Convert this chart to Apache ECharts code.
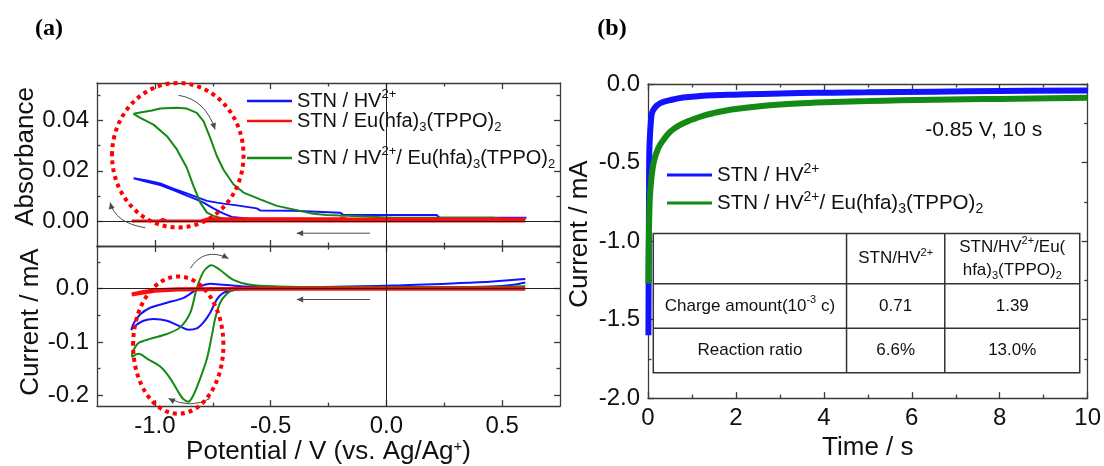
<!DOCTYPE html>
<html>
<head>
<meta charset="utf-8">
<script src="https://cdn.jsdelivr.net/npm/echarts@6/dist/echarts.min.js"></script>
<style>
  html, body { margin: 0; padding: 0; background: #ffffff; }
  #chart { width: 1104px; height: 466px; }
</style>
</head>
<body>
<div id="chart"></div>
<script>
// ---------------- data ----------------
// tick values
const potentialTicks = [-1.0, -0.5, 0.0, 0.5];
const potentialMinor = [-0.75, -0.25, 0.25];
const absorbanceTicks = [0.00, 0.02, 0.04];
const absorbanceMinor = [-0.01, 0.01, 0.03, 0.05];
const cvCurrentTicks = [0.0, -0.1, -0.2];
const cvCurrentMinor = [0.05, -0.05, -0.15];
const timeTicks = [0, 2, 4, 6, 8, 10];
const timeMinor = [1, 3, 5, 7, 9];
const caCurrentTicks = [0.0, -0.5, -1.0, -1.5, -2.0];
const caCurrentMinor = [-0.25, -0.75, -1.25, -1.75];

// series names
const NAME_HV = 'STN / HV2+';
const NAME_EU = 'STN / Eu(hfa)3(TPPO)2';
const NAME_HVEU = 'STN / HV2+/ Eu(hfa)3(TPPO)2';

// (a) absorbance vs potential, scan order [V, Abs]
const absHV = [
  [0.60, 0.0010], [0.30, 0.0008], [0.00, 0.0008], [-0.30, 0.0008], [-0.60, 0.0010],
  [-0.668, 0.0016], [-0.705, 0.0030], [-0.747, 0.0050], [-0.790, 0.0073], [-0.819, 0.0085],
  [-0.862, 0.0101], [-0.920, 0.0123], [-0.977, 0.0143], [-1.035, 0.0156], [-1.092, 0.0170],
  [-1.035, 0.0161], [-0.977, 0.0149], [-0.920, 0.0129], [-0.862, 0.0110], [-0.819, 0.0095],
  [-0.775, 0.0080], [-0.732, 0.0073], [-0.704, 0.0069], [-0.646, 0.0062], [-0.603, 0.0056],
  [-0.560, 0.0050], [-0.545, 0.0042], [-0.402, 0.0041], [-0.200, 0.0033], [-0.186, 0.0024],
  [0.217, 0.0024], [0.230, 0.0013], [0.605, 0.0013]
];
const absEu = [
  [0.60, 0.0000], [-1.10, 0.0000],
  [-0.98, 0.0000], [-0.965, 0.0006], [-0.95, 0.0000], [-0.80, 0.0000], [-0.77, 0.0009],
  [-0.20, 0.0009], [-0.19, 0.0012], [-0.17, 0.0008], [0.60, 0.0008]
];
const absHVEu = [
  [0.60, 0.0008], [0.40, 0.0006], [0.20, 0.0005], [0.00, 0.0005], [-0.20, 0.0005],
  [-0.40, 0.0005], [-0.60, 0.0006], [-0.70, 0.0008], [-0.747, 0.0020], [-0.775, 0.0033],
  [-0.804, 0.0073], [-0.833, 0.0139], [-0.862, 0.0212], [-0.905, 0.0285], [-0.948, 0.0338],
  [-1.006, 0.0384], [-1.063, 0.0411], [-1.092, 0.0427],
  [-1.063, 0.0432], [-1.013, 0.0440], [-0.977, 0.0448], [-0.905, 0.0451], [-0.862, 0.0448],
  [-0.819, 0.0431], [-0.790, 0.0398], [-0.761, 0.0331], [-0.732, 0.0258], [-0.704, 0.0205],
  [-0.661, 0.0146], [-0.617, 0.0113], [-0.545, 0.0086], [-0.473, 0.0060], [-0.402, 0.0046],
  [-0.316, 0.0029], [-0.258, 0.0024], [-0.114, 0.0019], [0.030, 0.0013], [0.460, 0.0013],
  [0.500, 0.0009], [0.600, 0.0007]
];

// (a) cyclic voltammograms, scan order [V, mA]
const cvHV = [
  [0.60, 0.0116], [0.55, 0.0074], [0.45, 0.0040], [0.20, 0.0025], [0.00, 0.0020],
  [-0.30, 0.0015], [-0.60, 0.0010], [-0.661, -0.0030], [-0.704, -0.0080], [-0.732, -0.0200],
  [-0.761, -0.0450], [-0.790, -0.0630], [-0.819, -0.0744], [-0.855, -0.0770], [-0.891, -0.0707],
  [-0.948, -0.0600], [-1.006, -0.0570], [-1.049, -0.0600], [-1.085, -0.0695], [-1.102, -0.0770],
  [-1.089, -0.0630], [-1.063, -0.0480], [-1.020, -0.0357], [-0.948, -0.0264], [-0.876, -0.0172],
  [-0.833, -0.0050], [-0.804, 0.0043], [-0.761, 0.0092], [-0.704, 0.0074], [-0.617, 0.0043],
  [-0.402, 0.0030], [0.030, 0.0060], [0.317, 0.0105], [0.461, 0.0135], [0.600, 0.0180]
];
const cvEu = [
  [0.60, 0.0000], [0.00, 0.0000], [-0.60, 0.0000], [-0.90, -0.0015], [-1.00, -0.0040],
  [-1.05, -0.0070], [-1.10, -0.0110], [-1.05, -0.0060], [-1.00, -0.0030], [-0.90, -0.0010],
  [-0.60, 0.0000], [0.60, 0.0000]
];
const cvHVEu = [
  [0.60, 0.0040], [0.40, 0.0030], [0.20, 0.0030], [0.00, 0.0030], [-0.20, 0.0030],
  [-0.40, 0.0020], [-0.60, 0.0010], [-0.66, -0.0020], [-0.69, -0.0100], [-0.718, -0.0264],
  [-0.740, -0.0570], [-0.754, -0.0880], [-0.775, -0.1310], [-0.804, -0.1680], [-0.833, -0.1990],
  [-0.855, -0.2120], [-0.876, -0.2070], [-0.891, -0.1990], [-0.934, -0.1680], [-0.977, -0.1460],
  [-1.034, -0.1310], [-1.070, -0.1220], [-1.099, -0.1280],
  [-1.096, -0.1180], [-1.089, -0.1125], [-1.070, -0.1015], [-1.020, -0.0940], [-0.948, -0.0850],
  [-0.891, -0.0725], [-0.847, -0.0450], [-0.819, 0.0010], [-0.790, 0.0320], [-0.765, 0.0430],
  [-0.754, 0.0440], [-0.735, 0.0400], [-0.718, 0.0350], [-0.661, 0.0166], [-0.589, 0.0074],
  [-0.473, 0.0043], [-0.258, 0.0030], [0.000, 0.0030], [0.300, 0.0030], [0.600, 0.0040]
];

// (b) chronoamperometry at -0.85 V [s, mA]
const caHV = [
  [0.01, -1.60], [0.015, -1.20], [0.02, -0.90], [0.025, -0.62], [0.03, -0.43],
  [0.045, -0.325], [0.06, -0.263], [0.08, -0.200], [0.11, -0.171], [0.19, -0.140],
  [0.30, -0.119], [0.50, -0.103], [0.80, -0.086], [1.18, -0.077], [1.50, -0.072],
  [1.94, -0.068], [2.60, -0.063], [3.45, -0.058], [4.20, -0.055], [4.97, -0.053],
  [6.48, -0.049], [8.00, -0.045], [10.00, -0.041]
];
const caHVEu = [
  [0.01, -1.27], [0.02, -1.00], [0.04, -0.737], [0.08, -0.593], [0.136, -0.490],
  [0.235, -0.407], [0.35, -0.356], [0.50, -0.305], [0.60, -0.283], [0.73, -0.260],
  [0.90, -0.238], [1.03, -0.224], [1.25, -0.203], [1.48, -0.186], [1.75, -0.170],
  [2.09, -0.156], [2.50, -0.143], [2.85, -0.134], [3.50, -0.123], [4.21, -0.115],
  [5.00, -0.109], [5.73, -0.104], [6.50, -0.100], [7.24, -0.097], [8.00, -0.095],
  [8.76, -0.092], [10.00, -0.088]
];

// (b) inset table
const tableHeader = ['', '{t|STN/HV}{s|2+}', '{t|STN/HV}{s|2+}{t|/Eu(}\n{t|hfa)}{b|3}{t|(TPPO)}{b|2}'];
const tableRows = [
  ['{t|Charge amount(10}{s|-3}{t| c)}', '0.71', '1.39'],
  ['Reaction ratio', '6.6%', '13.0%']
];

// ---------------- styles ----------------
const FONT = '"Liberation Sans", Arial, sans-serif';
const AXIS = '#3a3a3a';
const TEXT = '#111111';
const C_HV = '#1212ff';
const C_EU = '#ff0d0d';
const C_HVEU = '#138a13';

const richName = {};
richName[NAME_HV] = '{n|STN / HV}{sup|2+}';
richName[NAME_EU] = '{n|STN / Eu(hfa)}{sub|3}{n|(TPPO)}{sub|2}';
richName[NAME_HVEU] = '{n|STN / HV}{sup|2+}{n|/ Eu(hfa)}{sub|3}{n|(TPPO)}{sub|2}';

const LEGEND_LINE_H = 26;
function legendRich(size) {
  const small = Math.round(size * 0.66);
  return {
    n: { fontSize: size, fontFamily: FONT, color: TEXT, lineHeight: LEGEND_LINE_H },
    sup: { fontSize: small, fontFamily: FONT, color: TEXT, lineHeight: small, verticalAlign: 'top' },
    sub: { fontSize: small, fontFamily: FONT, color: TEXT, lineHeight: small, verticalAlign: 'bottom' }
  };
}

function nameStyle(shift) {
  return {
    fontSize: 26, fontFamily: FONT, color: TEXT, padding: [0, 0, 0, shift || 0],
    rich: { sup: { fontSize: 15, fontFamily: FONT, color: TEXT, lineHeight: 15, verticalAlign: 'top' } }
  };
}

// ---------------- axes ----------------
const xAxes = [];
const yAxes = [];
function addAxis(list, o) {
  const idx = list.length;
  const tickStyle = { color: AXIS, width: 1.3 };
  list.push({
    type: 'value', gridIndex: o.grid, position: o.pos, min: o.min, max: o.max,
    axisLine: { show: true, onZero: false, lineStyle: { color: AXIS, width: 1.3 } },
    axisTick: { show: true, inside: true, length: 6, customValues: o.major, lineStyle: tickStyle },
    axisLabel: o.labels ? {
      show: true, customValues: o.labels, formatter: o.fmt, margin: 8,
      fontSize: 24, fontFamily: FONT, color: TEXT
    } : { show: false },
    splitLine: { show: false },
    name: o.name || '', nameLocation: 'middle', nameGap: o.nameGap || 0, nameTextStyle: nameStyle(o.shift)
  });
  list.push({
    type: 'value', gridIndex: o.grid, position: o.pos, min: o.min, max: o.max,
    axisLine: { show: false, onZero: false },
    axisTick: { show: true, inside: true, length: 3.5, customValues: o.minor, lineStyle: tickStyle },
    axisLabel: { show: false }, splitLine: { show: false }
  });
  return idx;
}
const f1 = v => v.toFixed(1);
const f2 = v => v.toFixed(2);
const f0 = v => String(Math.round(v));

const potRange = { min: -1.25, max: 0.75, major: potentialTicks, minor: potentialMinor };
const xAbs = addAxis(xAxes, Object.assign({ grid: 0, pos: 'bottom' }, potRange));
addAxis(xAxes, Object.assign({ grid: 0, pos: 'top' }, potRange));
const xCv = addAxis(xAxes, Object.assign({
  grid: 1, pos: 'bottom', labels: potentialTicks, fmt: f1,
  name: 'Potential / V (vs. Ag/Ag{sup|+})', nameGap: 30
}, potRange));
addAxis(xAxes, Object.assign({ grid: 1, pos: 'top' }, potRange));
const timeRange = { min: 0, max: 10, major: timeTicks, minor: timeMinor };
const xCa = addAxis(xAxes, Object.assign({
  grid: 2, pos: 'bottom', labels: timeTicks, fmt: f0, name: 'Time / s', nameGap: 32
}, timeRange));
addAxis(xAxes, Object.assign({ grid: 2, pos: 'top' }, timeRange));

const absRange = { min: -0.01, max: 0.055, major: absorbanceTicks, minor: absorbanceMinor };
const yAbs = addAxis(yAxes, Object.assign({
  grid: 0, pos: 'left', labels: absorbanceTicks, fmt: f2, name: 'Absorbance', nameGap: 47, shift: 16
}, absRange));
addAxis(yAxes, Object.assign({ grid: 0, pos: 'right' }, absRange));
const cvRange = { min: -0.22, max: 0.08, major: cvCurrentTicks, minor: cvCurrentMinor };
const yCv = addAxis(yAxes, Object.assign({
  grid: 1, pos: 'left', labels: cvCurrentTicks, fmt: f1, name: 'Current / mA', nameGap: 47, shift: 8
}, cvRange));
addAxis(yAxes, Object.assign({ grid: 1, pos: 'right' }, cvRange));
const caRange = { min: -2, max: 0, major: caCurrentTicks, minor: caCurrentMinor };
const yCa = addAxis(yAxes, Object.assign({
  grid: 2, pos: 'left', labels: caCurrentTicks, fmt: f1, name: 'Current / mA', nameGap: 55, shift: 14
}, caRange));
addAxis(yAxes, Object.assign({ grid: 2, pos: 'right' }, caRange));

// ---------------- series ----------------
const zeroLines = {
  silent: true, symbol: ['none', 'none'], animation: false,
  label: { show: false },
  lineStyle: { color: '#222222', width: 1, type: 'solid' },
  data: [{ yAxis: 0 }, { xAxis: 0 }]
};
function line(name, data, xi, yi, color, width, extra) {
  return Object.assign({
    type: 'line', name: name, data: data, xAxisIndex: xi, yAxisIndex: yi,
    symbol: 'none', showSymbol: false, animation: false,
    lineStyle: { color: color, width: width }, itemStyle: { color: color }
  }, extra || {});
}
const series = [
  line(NAME_HV, absHV, xAbs, yAbs, C_HV, 2),
  line(NAME_HVEU, absHVEu, xAbs, yAbs, C_HVEU, 2),
  line(NAME_EU, absEu, xAbs, yAbs, C_EU, 3, { markLine: zeroLines }),
  line(NAME_HV, cvHV, xCv, yCv, C_HV, 2, { smooth: 0.3 }),
  line(NAME_HVEU, cvHVEu, xCv, yCv, C_HVEU, 2, { smooth: 0.3 }),
  line(NAME_EU, cvEu, xCv, yCv, C_EU, 4, { markLine: zeroLines }),
  line(NAME_HV, caHV, xCa, yCa, C_HV, 6, { smooth: 0.4 }),
  line(NAME_HVEU, caHVEu, xCa, yCa, C_HVEU, 6, { smooth: 0.4 })
];

// one legend block per entry; the key is a short horizontal bar centred on the text row
function mkLegend(name, left, centerY, thickness, fontSize) {
  return {
    data: [name], left: left, top: centerY - LEGEND_LINE_H / 2, orient: 'vertical', padding: 0,
    icon: 'rect', itemWidth: 45, itemHeight: thickness, selectedMode: false,
    formatter: n => richName[n],
    textStyle: { rich: legendRich(fontSize) }
  };
}

const chart = echarts.init(document.getElementById('chart'));
chart.setOption({
  animation: false,
  backgroundColor: '#ffffff',
  grid: [
    { left: 97, top: 83, width: 463, height: 163 },
    { left: 97, top: 246, width: 463, height: 162 },
    { left: 648, top: 84, width: 440, height: 324 }
  ],
  xAxis: xAxes,
  yAxis: yAxes,
  legend: [
    mkLegend(NAME_HV, 247, 101, 2.5, 20),
    mkLegend(NAME_EU, 247, 124, 2.5, 20),
    mkLegend(NAME_HVEU, 247, 158, 2.5, 20),
    mkLegend(NAME_HV, 667, 175, 3, 20.5),
    mkLegend(NAME_HVEU, 667, 203, 3, 20.5)
  ],
  series: series
});

// ---------------- annotations ----------------
const pAbs = (x, y) => chart.convertToPixel({ seriesIndex: 0 }, [x, y]);
const pCv = (x, y) => chart.convertToPixel({ seriesIndex: 3 }, [x, y]);
const pCa = (x, y) => chart.convertToPixel({ seriesIndex: 6 }, [x, y]);

const ARROW = '#4a4a4a';
function head(tip, from, size) {
  const a = Math.atan2(tip[1] - from[1], tip[0] - from[0]);
  const s = size || 7;
  const a1 = a + Math.PI * 0.86, a2 = a - Math.PI * 0.86;
  return {
    type: 'polygon', z: 95,
    shape: { points: [tip, [tip[0] + s * Math.cos(a1), tip[1] + s * Math.sin(a1)], [tip[0] + s * Math.cos(a2), tip[1] + s * Math.sin(a2)]] },
    style: { fill: ARROW }
  };
}
function curveArrow(p0, c, p1) {
  return [
    { type: 'bezierCurve', z: 95, shape: { x1: p0[0], y1: p0[1], cpx1: c[0], cpy1: c[1], x2: p1[0], y2: p1[1] },
      style: { stroke: ARROW, lineWidth: 1, fill: null } },
    head(p1, c)
  ];
}
function straightArrow(p0, p1) {
  return [
    { type: 'line', z: 95, shape: { x1: p0[0], y1: p0[1], x2: p1[0], y2: p1[1] }, style: { stroke: ARROW, lineWidth: 1 } },
    head(p1, p0)
  ];
}
function dottedEllipse(center, rxPoint, ryPoint) {
  return {
    type: 'ellipse', z: 100,
    shape: { cx: center[0], cy: center[1], rx: Math.abs(rxPoint[0] - center[0]), ry: Math.abs(ryPoint[1] - center[1]) },
    style: { fill: null, stroke: '#ff0000', lineWidth: 4, lineDash: [4, 4] }
  };
}

const g = [];
// panel labels
g.push({ type: 'text', x: 49, y: 29, z: 100,
  style: { text: '(a)', font: 'bold 24px "Liberation Serif", "Times New Roman", serif', fill: '#000', align: 'center', verticalAlign: 'middle' } });
g.push({ type: 'text', x: 612, y: 29, z: 100,
  style: { text: '(b)', font: 'bold 24px "Liberation Serif", "Times New Roman", serif', fill: '#000', align: 'center', verticalAlign: 'middle' } });

// highlighted regions
g.push(dottedEllipse(pAbs(-0.901, 0.0262), pAbs(-0.901 + 0.284, 0.0262), pAbs(-0.901, 0.0262 + 0.0288)));
g.push(dottedEllipse(pCv(-0.899, -0.1057), pCv(-0.899 + 0.195, -0.1057), pCv(-0.899, -0.1057 + 0.1286)));

// scan-direction arrows
g.push(...curveArrow(pAbs(-0.898, 0.0501), pAbs(-0.783, 0.0485), pAbs(-0.740, 0.0365)));
g.push(...curveArrow(pAbs(-1.042, -0.0027), pAbs(-1.171, -0.0008), pAbs(-1.193, 0.0073)));
g.push(...straightArrow(pAbs(-0.071, -0.0049), pAbs(-0.387, -0.0049)));
g.push(...straightArrow(pCv(-0.071, -0.0203), pCv(-0.387, -0.0203)));
g.push(...curveArrow(pCv(-0.847, 0.0382), pCv(-0.786, 0.0789), pCv(-0.682, 0.0566)));
g.push(...curveArrow(pCv(-0.761, -0.2057), pCv(-0.844, -0.2258), pCv(-0.941, -0.2057)));

// potential-step note
const note = pCa(7.636, -0.296);
g.push({ type: 'text', x: note[0], y: note[1], z: 100,
  style: { text: '-0.85 V, 10 s', fontSize: 21, fontFamily: FONT, fill: TEXT, align: 'center', verticalAlign: 'middle' } });

// inset table
const tl = pCa(0.12, -0.952), br = pCa(9.82, -1.838);
const colX = [4.516, 6.75].map(t => pCa(t, 0)[0]);
const rowY = [-1.272, -1.556].map(v => pCa(0, v)[1]);
const TB = '#333333';
g.push({ type: 'rect', z: 96, shape: { x: tl[0], y: tl[1], width: br[0] - tl[0], height: br[1] - tl[1] },
  style: { fill: '#ffffff', stroke: TB, lineWidth: 1.5 } });
colX.forEach(x => g.push({ type: 'line', z: 97, shape: { x1: x, y1: tl[1], x2: x, y2: br[1] }, style: { stroke: TB, lineWidth: 1.5 } }));
rowY.forEach(y => g.push({ type: 'line', z: 97, shape: { x1: tl[0], y1: y, x2: br[0], y2: y }, style: { stroke: TB, lineWidth: 1.5 } }));
const tableRich = {
  t: { fontSize: 17, fontFamily: FONT, fill: TEXT, lineHeight: 23 },
  s: { fontSize: 11, fontFamily: FONT, fill: TEXT, lineHeight: 11, verticalAlign: 'top' },
  b: { fontSize: 11, fontFamily: FONT, fill: TEXT, lineHeight: 11, verticalAlign: 'bottom' }
};
const colCenters = [(tl[0] + colX[0]) / 2, (colX[0] + colX[1]) / 2, (colX[1] + br[0]) / 2];
const rowCenters = [(tl[1] + rowY[0]) / 2, (rowY[0] + rowY[1]) / 2, (rowY[1] + br[1]) / 2];
[tableHeader].concat(tableRows).forEach((row, ri) => {
  row.forEach((cell, ci) => {
    if (!cell) return;
    g.push({ type: 'text', z: 98, x: colCenters[ci], y: rowCenters[ri],
      style: { text: cell, rich: tableRich, fontSize: 17, fontFamily: FONT, fill: TEXT,
        align: 'center', verticalAlign: 'middle', lineHeight: 23 } });
  });
});

chart.setOption({ graphic: { elements: g } });
</script>
</body>
</html>
